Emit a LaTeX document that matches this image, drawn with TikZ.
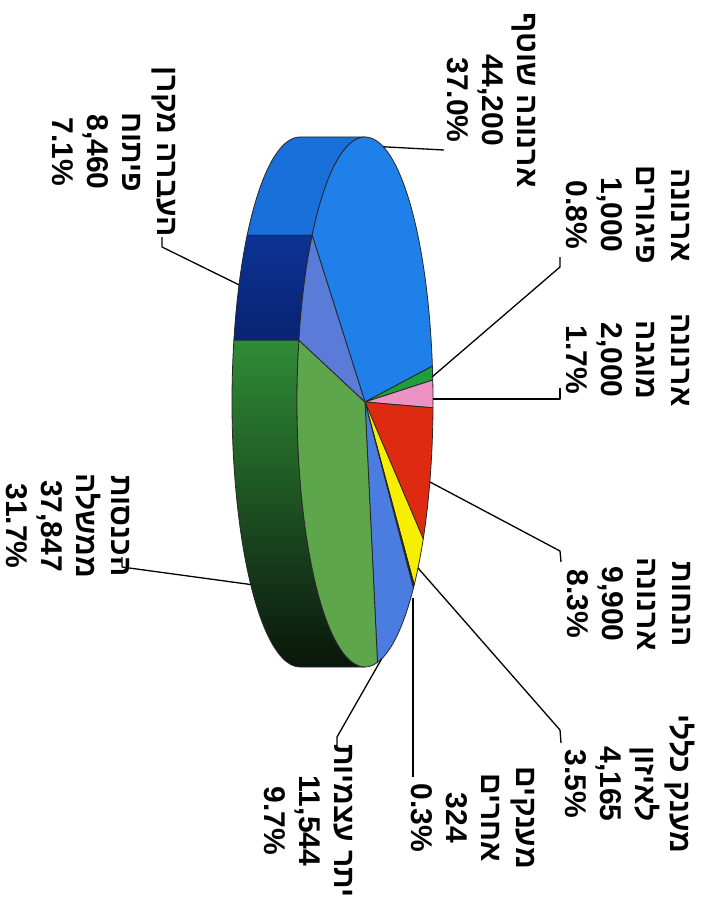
\documentclass[tikz,border=0pt]{standalone}
\usepackage{fontspec}
\setmainfont{Liberation Sans}
\newfontfamily\hebfont[Script=Hebrew]{Liberation Sans}
\TeXXeTstate=1
\usetikzlibrary{calc}
\definecolor{topblue}{HTML}{1E80E8}
\definecolor{sideblue}{HTML}{1A70DA}
\definecolor{peri}{HTML}{5A7CD8}
\definecolor{navytop}{HTML}{0C3394}
\definecolor{navybot}{HTML}{061A5E}
\definecolor{topgreen}{HTML}{5EA64C}
\definecolor{sidegreenA}{HTML}{2F8C36}
\definecolor{sidegreenB}{HTML}{0F4A1A}
\definecolor{sidegreenC}{HTML}{0A160C}
\definecolor{yitra}{HTML}{4B7CE0}
\definecolor{slyellow}{HTML}{F8EE00}
\definecolor{slred}{HTML}{DF2A12}
\definecolor{slpink}{HTML}{EC92C4}
\definecolor{slgreen}{HTML}{1F9E3C}
\definecolor{sldark}{HTML}{1A1F3C}
\newcommand{\heb}[1]{{\hebfont\beginR #1\endR}}
\newcommand{\topslice}[3]{\path[edge,#3] (C) -- ++(#1:68pt and 265pt) arc[start angle=#1,end angle=#2,x radius=68pt,y radius=265pt] -- cycle;}
\newcommand{\sideshape}[3]{\path[edge,#3] (C) ++(#1:68pt and 265pt) arc[start angle=#1,end angle=#2,x radius=68pt,y radius=265pt] -- ++(-65pt,0pt) arc[start angle=#2,end angle=#1,x radius=68pt,y radius=265pt] -- cycle;}
\begin{document}
\begin{tikzpicture}[x=1pt,y=1pt,
  lbl/.style={rotate=-90, align=center, font=\fontsize{30}{35}\selectfont\bfseries, inner sep=0pt},
  leader/.style={draw=black, line width=1.3pt, line join=round},
  edge/.style={draw=black!85, line width=0.8pt, line join=round}]
\useasboundingbox (0,0) rectangle (707,-901);
\fill[white] (0,0) rectangle (707,-901);
\coordinate (C) at (365,-402);
\coordinate (B) at (300,-402);
% sides
\sideshape{141}{90}{fill=sideblue}
\sideshape{166.51}{141}{top color=navytop, bottom color=navybot}
\sideshape{166.51}{270}{top color=sidegreenA, middle color=sidegreenB, bottom color=sidegreenC}
% top face
\topslice{141}{7.78}{fill=topblue}
\topslice{7.78}{4.76}{fill=slgreen}
\topslice{4.76}{-1.26}{fill=slpink}
\topslice{-1.26}{-31.10}{fill=slred}
\topslice{-31.10}{-43.65}{fill=slyellow}
\topslice{-43.65}{-44.63}{fill=sldark}
\topslice{-44.63}{-79.42}{fill=yitra}
\topslice{-79.42}{-193.49}{fill=topgreen}
\topslice{166.51}{141}{fill=peri}
% labels
\node[lbl] (t1) at (492,-100) {\heb{ארנונה שוטף}\\44,200\\37.0\%};
\node[lbl] (t2) at (628,-215) {\heb{ארנונה}\\\heb{פיגורים}\\1,000\\0.8\%};
\node[lbl] (t3) at (628,-360) {\heb{ארנונה}\\\heb{מוגנה}\\2,000\\1.7\%};
\node[lbl] (t4) at (629,-604) {\heb{הנחות}\\\heb{ארנונה}\\9,900\\8.3\%};
\node[lbl] (t5) at (630,-784) {\heb{מענק כללי}\\\heb{לאיזון}\\4,165\\3.5\%};
\node[lbl] (t6) at (473,-818) {\heb{מענקים}\\\heb{אחרים}\\324\\0.3\%};
\node[lbl] (t7) at (308,-821) {\heb{יתר עצמיות}\\11,544\\9.7\%};
\node[lbl] (t8) at (68,-526) {\heb{הכנסות}\\\heb{ממשלה}\\37,847\\31.7\%};
\node[lbl] (t9) at (114,-152) {\heb{העברה מקרן}\\\heb{פיתוח}\\8,460\\7.1\%};
% leader lines
\coordinate (p1) at ($(C)+(74.4:68pt and 265pt)$);
\coordinate (e1) at (444,-150);
\draw[leader] (p1) -- (e1);
\coordinate (p2) at (432,-377);
\coordinate (k2) at (560,-267);
\coordinate (e2) at (560,-257);
\draw[leader] (p2) -- (k2) -- (e2);
\coordinate (p3) at (433,-399);
\coordinate (k3) at (560,-399);
\coordinate (e3) at (560,-388);
\draw[leader] (p3) -- (k3) -- (e3);
\coordinate (p4) at (430,-482);
\coordinate (k4) at (560,-551);
\coordinate (e4) at (561,-562);
\draw[leader] (p4) -- (k4) -- (e4);
\coordinate (p5) at (418,-568);
\coordinate (k5) at (560,-730);
\coordinate (e5) at (561,-743);
\draw[leader] (p5) -- (k5) -- (e5);
\coordinate (p6) at (413,-598);
\coordinate (e6) at (413,-777);
\draw[leader] (p6) -- (e6);
\coordinate (p7) at ($(C)+(-76:68pt and 265pt)$);
\coordinate (k7) at (337,-737);
\coordinate (e7) at (337,-745);
\draw[leader] (p7) -- (k7) -- (e7);
\coordinate (p8) at ($(B)+(-136.46:68pt and 265pt)$);
\coordinate (k8) at (122,-567);
\coordinate (e8) at (122,-557);
\draw[leader] (p8) -- (k8) -- (e8);
\coordinate (p9) at ($(B)+(153.76:68pt and 265pt)$);
\coordinate (k9) at (162,-247);
\coordinate (e9) at (162,-237);
\draw[leader] (p9) -- (k9) -- (e9);
\end{tikzpicture}
\end{document}
